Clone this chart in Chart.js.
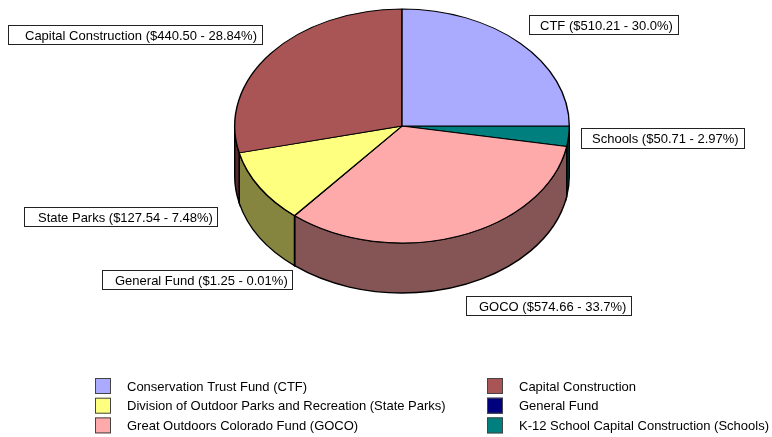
<!DOCTYPE html>
<html>
<head>
<meta charset="utf-8">
<script src="https://cdn.jsdelivr.net/npm/chart.js@4"></script>
<style>
html, body { margin: 0; padding: 0; background: #fff; }
canvas { display: block; }
</style>
</head>
<body>
<canvas id="graphFunds" width="772" height="437"></canvas>
<script>
// Clockwise from 3 o'clock. Shares are what the picture draws, the printed percentages differ a bit
var sliceNames = ["Schools", "GOCO", "General Fund", "State Parks", "Capital Construction", "CTF"]
var sliceShares = [2.8, 33.3, 0.02, 10.2, 28.7, 25.0]
var sliceAmounts = ["$50.71", "$574.66", "$1.25", "$127.54", "$440.50", "$510.21"]
var slicePercents = ["2.97%", "33.7%", "0.01%", "7.48%", "28.84%", "30.0%"]
var sliceColors = ["#007f7f", "#ffaaaa", "#00007f", "#ffff7f", "#aa5555", "#aaaaff"]
var sideColors = ["#004040", "#855555", "#000040", "#858540", "#552a2a", "#555580"]

var legendNames = ["Conservation Trust Fund (CTF)", "Capital Construction", "Division of Outdoor Parks and Recreation (State Parks)", "General Fund", "Great Outdoors Colorado Fund (GOCO)", "K-12 School Capital Construction (Schools)"]
var legendColors = ["#aaaaff", "#aa5555", "#ffff7f", "#00007f", "#ffaaaa", "#007f7f"]

// Where the pie sits on the page
const pie = { cx: 402, cy: 126, ry: 117, depth: 50 }
// Boxes around the slice labels, same order as sliceNames
const labelBoxes = [
    { x: 581, y: 128, w: 164, h: 21, pad: 11 },
    { x: 466, y: 296, w: 166, h: 20, pad: 13 },
    { x: 102, y: 270, w: 191, h: 20, pad: 13 },
    { x: 24, y: 207, w: 194, h: 20, pad: 14 },
    { x: 8, y: 25, w: 255, h: 20, pad: 17 },
    { x: 529, y: 15, w: 150, h: 20, pad: 11 }
]
const fontName = "13px 'Liberation Sans', Arial, sans-serif"

const pie3d = {
    id: "pie3d",
    beforeDatasetsDraw(chart) {
        const ctx = chart.ctx
        const arcs = chart.getDatasetMeta(0).data
        const rx = arcs[0].outerRadius
        ctx.save()
        ctx.lineWidth = 1.4
        ctx.strokeStyle = "#000"
        // side wall, only the front half of the pie shows it
        arcs.forEach((arc, i) => {
            let from = Math.max(arc.startAngle, 0)
            let to = Math.min(arc.endAngle, Math.PI)
            if (to <= from) return
            ctx.beginPath()
            ctx.ellipse(pie.cx, pie.cy, rx, pie.ry, 0, from, to)
            ctx.ellipse(pie.cx, pie.cy + pie.depth, rx, pie.ry, 0, to, from, true)
            ctx.closePath()
            ctx.fillStyle = sideColors[i]
            ctx.fill()
            ctx.stroke()
        })
        ctx.restore()
        // squash the top face into an ellipse
        const scaleY = pie.ry / rx
        ctx.save()
        ctx.translate(pie.cx, pie.cy)
        ctx.scale(1, scaleY)
        ctx.translate(-arcs[0].x, -arcs[0].y)
    },
    afterDatasetsDraw(chart) {
        const ctx = chart.ctx
        ctx.restore()
        ctx.save()
        ctx.font = fontName
        ctx.textBaseline = "middle"
        ctx.textAlign = "left"
        sliceNames.forEach((name, i) => {
            let box = labelBoxes[i]
            ctx.fillStyle = "#fff"
            ctx.strokeStyle = "#222"
            ctx.lineWidth = 1
            ctx.fillRect(box.x, box.y, box.w, box.h)
            ctx.strokeRect(box.x + 0.5, box.y + 0.5, box.w - 1, box.h - 1)
            ctx.fillStyle = "#000"
            ctx.fillText(name + " (" + sliceAmounts[i] + " - " + slicePercents[i] + ")", box.x + box.pad, box.y + box.h / 2 + 1)
        })
        // two column legend, filled row by row
        legendNames.forEach((name, i) => {
            let col = i % 2
            let row = Math.floor(i / 2)
            let x = col == 0 ? 95 : 487
            let y = 378 + row * 19.7
            ctx.fillStyle = legendColors[i]
            ctx.strokeStyle = "#444"
            ctx.fillRect(x, y, 16, 16)
            ctx.strokeRect(x + 0.5, y + 0.5, 15, 15)
            ctx.fillStyle = "#000"
            ctx.fillText(name, x + 32, y + 9)
        })
        ctx.restore()
    }
}

var chartFunds = new Chart(document.getElementById("graphFunds").getContext("2d"), {
    type: "pie",
    data: {
        labels: sliceNames,
        datasets: [{
            data: sliceShares,
            backgroundColor: sliceColors,
            borderColor: "#000",
            borderWidth: 1.4,
            clip: false
        }]
    },
    options: {
        responsive: false,
        animation: false,
        rotation: 90,
        events: [],
        layout: { padding: { left: 234, right: 202, top: 0, bottom: 101 } },
        plugins: {
            legend: { display: false },
            tooltip: { enabled: false }
        }
    },
    plugins: [pie3d]
})
</script>
</body>
</html>
